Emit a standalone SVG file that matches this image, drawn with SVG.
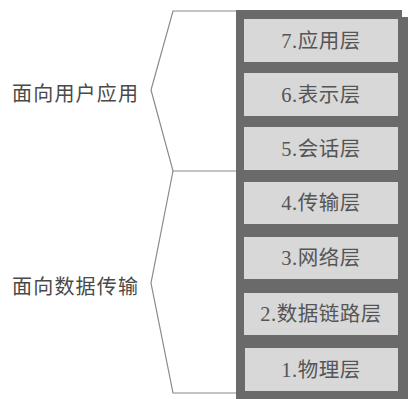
<svg xmlns="http://www.w3.org/2000/svg" width="408" height="399" viewBox="0 0 408 399">
<style>
.panel{fill:#6a6a6a}
.box rect{fill:#d8d8d8}
.box text{font-family:"Liberation Serif","Noto Sans CJK SC",serif;font-size:20.5px;fill:#555555;text-anchor:middle;dominant-baseline:central;letter-spacing:0.5px}
.grp text{font-family:"Noto Sans CJK SC",sans-serif;font-size:20px;fill:#4a4a4a;letter-spacing:1.2px;dominant-baseline:central}
.br{fill:none;stroke:#8a8a8a;stroke-width:1.2}
</style>
<rect width="408" height="399" fill="#ffffff"/>
<g id="panel">
<rect class="panel" x="236" y="10" width="166" height="389"/>
<rect class="panel" x="401" y="17" width="7" height="382"/>
</g>
<g id="connectors">
<polyline class="br" points="236,11 173,11 151,90 173,171 236,171"/>
<polyline class="br" points="173,171 151,283 173,393 236,393"/>
</g>
<g id="group-user" class="grp"><text x="12" y="92">面向用户应用</text></g>
<g id="group-data" class="grp"><text x="12" y="285">面向数据传输</text></g>
<g id="layer7" class="box"><rect x="244" y="19" width="154" height="43"/><text x="321" y="40.5">7.应用层</text></g>
<g id="layer6" class="box"><rect x="244" y="73" width="154" height="43"/><text x="321" y="94.5">6.表示层</text></g>
<g id="layer5" class="box"><rect x="244" y="127" width="154" height="43"/><text x="321" y="148.5">5.会话层</text></g>
<g id="layer4" class="box"><rect x="244" y="182" width="154" height="42"/><text x="321" y="203">4.传输层</text></g>
<g id="layer3" class="box"><rect x="244" y="237" width="154" height="42"/><text x="321" y="258">3.网络层</text></g>
<g id="layer2" class="box"><rect x="244" y="293" width="154" height="42"/><text x="321" y="314">2.数据链路层</text></g>
<g id="layer1" class="box"><rect x="245" y="348" width="153" height="43"/><text x="321" y="369.5">1.物理层</text></g>
</svg>
